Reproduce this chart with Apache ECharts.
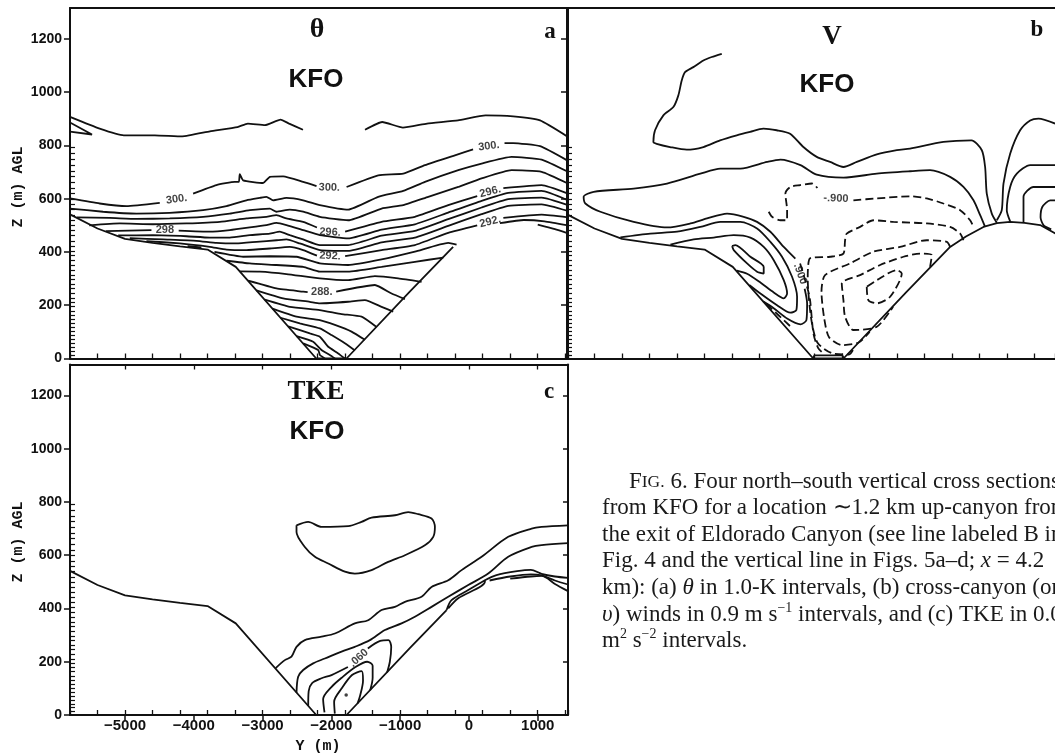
<!DOCTYPE html>
<html>
<head>
<meta charset="utf-8">
<script src="https://cdn.jsdelivr.net/npm/echarts@6/dist/echarts.min.js"></script>
<style>
  html, body { margin: 0; padding: 0; background: #ffffff; }
  #chart { width: 1055px; height: 755px; }
</style>
</head>
<body>
<div id="chart"></div>
<script>
// ---- axis values -------------------------------------------------------
const yTickValues = [0, 200, 400, 600, 800, 1000, 1200];
const xLabelValues = [-5000, -4000, -3000, -2000, -1000, 0, 1000];
// model vertical levels, marked as short inner ticks on the height axes
const modelLevels = [14, 28, 42, 56, 71, 86, 101, 116, 131, 147, 163, 179, 195, 211, 228, 245,
  262, 279, 296, 314, 332, 350, 368, 386, 404, 423, 442, 461, 480, 499, 519, 539, 559, 579,
  599, 620, 641, 662, 683, 704, 726, 748, 770, 792];

// ---- terrain (Y in m, Z in m AGL) --------------------------------------
const groundProfile = [[-5800, 541], [-5400, 488], [-5000, 449], [-4600, 434], [-4200, 421],
  [-3800, 409], [-3390, 344], [-2220, 0], [-1780, 0], [-860, 251], [-325, 394], [-230, 419],
  [0, 458], [255, 494], [450, 508], [643, 513], [850, 509], [1079, 501], [1300, 469]];
const canyonFloorV = [[-2230, 0], [-2200, 12], [-1800, 12], [-1770, 0]];

// ---- (a) potential temperature isentropes (null = label gap) ------------
const thetaContours = [
  [[-5800, 907], [-5369, 863], [-5018, 838], [-4567, 838], [-4167, 834], [-3766, 853], [-3365, 869], [-3215, 882], [-2965, 876], [-2739, 897], [-2614, 882], [-2413, 859], null,
   [-1511, 859], [-1261, 888], [-960, 867], [-610, 882], [-159, 894], [242, 913], [643, 909], [1034, 894], [1440, 832]],
  [[-5800, 886], [-5480, 841], [-5800, 852]],
  [[-5800, 601], [-5368, 582], [-4980, 572], [-4495, 584], null,
   [-4010, 619], [-3671, 651], [-3404, 663], [-3345, 663], [-3332, 692], [-3283, 669], [-2992, 659], [-2895, 682], [-2701, 684], [-2410, 663], [-2216, 647], null,
   [-1779, 644], [-1319, 688], [-955, 694], [-640, 726], [-204, 763], [60, 785], null,
   [517, 809], [643, 809], [1034, 797], [1440, 742]],
  [[-5800, 563], [-5319, 551], [-4834, 544], [-4350, 547], [-3865, 557], [-3525, 572], [-3235, 594], [-3041, 603], [-2944, 607], [-2847, 594], [-2653, 603], [-2410, 594], [-2168, 576],
   [-1755, 559], [-1319, 607], [-955, 629], [-640, 663], [-155, 707], [184, 732], [620, 757], [1057, 747], [1440, 701]],
  [[-5700, 530], [-5222, 528], [-4834, 524], [-4350, 526], [-3865, 532], [-3477, 544], [-3186, 557], [-2895, 563], [-2798, 551], [-2604, 559], [-2410, 551], [-2168, 532],
   [-1755, 519], [-1270, 563], [-955, 576], [-592, 607], [-155, 644], [184, 676], [620, 707], [1057, 701], [1440, 657]],
  [[-5520, 500], [-5077, 507], [-4592, 504], [-4107, 507], [-3622, 513], [-3235, 526], [-2944, 532], [-2798, 538], [-2653, 526], [-2410, 513], [-2210, 492], null,
   [-1800, 476], [-1270, 513], [-786, 532], [-301, 576], [120, 610], null,
   [500, 640], [1057, 651], [1440, 619]],
  [[-5280, 478], [-4616, 482], null,
   [-4220, 480], [-3768, 476], [-3477, 482], [-3186, 492], [-2944, 501], [-2798, 509], [-2653, 501], [-2410, 482], [-2168, 463],
   [-1755, 451], [-1270, 484], [-786, 504], [-301, 548], [184, 592], [572, 622], [1057, 629], [1440, 594]],
  [[-5100, 462], [-4592, 463], [-4107, 459], [-3768, 454], [-3477, 454], [-3186, 463], [-2895, 469], [-2750, 476], [-2604, 463], [-2410, 447], [-2168, 426],
   [-1755, 426], [-1270, 461], [-786, 479], [-301, 523], [184, 567], [572, 598], [1057, 604], [1440, 576]],
  [[-4931, 452], [-4447, 447], [-3962, 442], [-3671, 434], [-3380, 432], [-3089, 438], [-2798, 444], [-2653, 447], [-2459, 432], [-2168, 407],
   [-1755, 404], [-1270, 436], [-786, 454], [-301, 498], [184, 542], [572, 573], [1057, 579], [1440, 554]],
  [[-4689, 441], [-4204, 432], [-3768, 419], [-3525, 409], [-3235, 407], [-2895, 413], [-2604, 419], [-2410, 407], [-2210, 386], null,
   [-1800, 384], [-1270, 407], [-786, 426], [-301, 472], [120, 500], null,
   [500, 528], [1057, 540], [1440, 530]],
  [[450, 508], [800, 520], [1100, 515], [1440, 500]],
  [[1000, 503], [1250, 486], [1440, 470]],
  [[-4090, 422], [-3890, 417], [-4090, 418]],
  [[-3700, 400], [-3283, 382], [-2895, 384], [-2507, 382], [-2168, 357], [-1755, 351], [-1270, 372], [-786, 401], [-301, 434], [-180, 428]],
  [[-3525, 367], [-3186, 357], [-2798, 351], [-2410, 344], [-2168, 326], [-1755, 326], [-1270, 344], [-786, 363], [-374, 379]],
  [[-3332, 327], [-3041, 326], [-2653, 317], [-2168, 301], [-1755, 294], [-1367, 309], [-1028, 301], [-689, 288]],
  [[-3210, 292], [-2798, 263], [-2410, 251], [-2345, 249], null,
   [-1930, 251], [-1367, 276], [-1125, 244], [-931, 223]],
  [[-3089, 256], [-2701, 226], [-2313, 213], [-2168, 207], [-1755, 213], [-1513, 219], [-1270, 194], [-1101, 176]],
  [[-2968, 221], [-2604, 194], [-2168, 182], [-1852, 167], [-1561, 157], [-1343, 118]],
  [[-2856, 187], [-2507, 157], [-2168, 144], [-1949, 126], [-1707, 101], [-1513, 70]],
  [[-2740, 153], [-2459, 132], [-2168, 113], [-1998, 88], [-1804, 57], [-1658, 30]],
  [[-2629, 121], [-2313, 94], [-2168, 82], [-2046, 44], [-1901, 19], [-1804, 0]],
  [[-2507, 84], [-2265, 63], [-2143, 32], [-2022, 13], [-1949, 0]],
  [[-2410, 57], [-2192, 32], [-2167, 13], [-2095, 0]]
];
const thetaLabels = [
  [-4250, 598, '300.'], [-2030, 642, '300.'], [290, 797, '300.'],
  [-2020, 474, '296.'], [310, 626, '296.'],
  [-2020, 385, '292.'], [310, 514, '292.'],
  [-4420, 482, '298'], [-2140, 248, '288.']
];
const thetaLabelAngles = [8, -2, 7, -3, 14, -3, 14, 0, 0];

// ---- (b) cross-canyon wind: positive solid, negative dashed --------------
const windPositive = [
  [[-3550, 1144], [-3696, 1132], [-3817, 1119], [-3963, 1094], [-4084, 1075], [-4132, 1044], [-4181, 988], [-4254, 944], [-4399, 913], [-4520, 857], [-4544, 813], [-4496, 806],
   [-4302, 794], [-4060, 784], [-3817, 794], [-3575, 819], [-3332, 838], [-3138, 851], [-2945, 863], [-2751, 857], [-2557, 844], [-2363, 794], [-2169, 757], [-1975, 738],
   [-1781, 719], [-1587, 738], [-1296, 766], [-1005, 782], [-812, 788], [-327, 813], [80, 819], [231, 782], [279, 719], [303, 619], [376, 544], [449, 510]],
  [[279, 494], [207, 538], [110, 594], [-36, 644], [-230, 682], [-521, 707], [-812, 703], [-1296, 694], [-1781, 679], [-2169, 690], [-2406, 726], [-2697, 747], [-2891, 738],
   [-3279, 713], [-3570, 713], [-3861, 694], [-4346, 657], [-4830, 638], [-5412, 626], [-5558, 607], [-5533, 582], [-5315, 551], [-4830, 513], [-4346, 492], [-4006, 507],
   [-3764, 526], [-3473, 544], [-3231, 532], [-3037, 513], [-2843, 476], [-2649, 419], [-2480, 375], null,
   [-2345, 262], [-2309, 207], [-2319, 144], [-2406, 128], [-2600, 150], [-2800, 190], [-2950, 215]],
  [[-5024, 455], [-4588, 469], [-4200, 476], [-3861, 494], [-3570, 513], [-3279, 513], [-3037, 488], [-2843, 438], [-2674, 382], [-2528, 307], [-2455, 232], [-2465, 182],
   [-2552, 172], [-2746, 200], [-2988, 244], [-3150, 276]],
  [[-4297, 428], [-3958, 447], [-3667, 454], [-3376, 463], [-3134, 454], [-2940, 419], [-2794, 369], [-2649, 294], [-2600, 244], [-2649, 226], [-2794, 248], [-2988, 285],
   [-3182, 318], [-3330, 330]],
  [[-3400, 422], [-3352, 426], [-3134, 382], [-2940, 344], [-2940, 319], [-3037, 326], [-3182, 357], [-3376, 407], [-3400, 422]],
  [[449, 519], [521, 557], [546, 657], [643, 769], [788, 857], [934, 894], [1055, 901], [1297, 882]],
  [[643, 515], [594, 557], [643, 644], [740, 694], [934, 726], [1297, 726]],
  [[837, 510], [837, 607], [982, 644], [1297, 644]],
  [[1297, 594], [1225, 594], [1110, 569], [1085, 530], [1130, 500], [1240, 485]]
];
const windNegative = [
  [[-2867, 551], [-2818, 532], [-2697, 519], [-2600, 519], [-2600, 557], [-2625, 619], [-2552, 644], [-2411, 651], [-2237, 657], [-2160, 640], null,
   [-1636, 594], [-1296, 601], [-812, 609], [-569, 601], [-327, 582], [-84, 557], [61, 519], [110, 494]],
  [[-36, 444], [-84, 469], [-230, 494], [-569, 507], [-1054, 513], [-1345, 519], [-1539, 494], [-1733, 469], [-1757, 444], [-1781, 394], [-1975, 382], [-2266, 376],
   [-2300, 300], [-2250, 150], [-2160, 60], [-1950, 20], [-1700, 15], [-1620, 43]],
  [[-230, 419], [-278, 438], [-569, 444], [-957, 419], [-1345, 401], [-1684, 357], [-2048, 313], [-2100, 250], [-2060, 150], [-1990, 80], [-1800, 50], [-1560, 60], [-1400, 100]],
  [[-521, 344], [-496, 388], [-666, 394], [-909, 382], [-1248, 351], [-1539, 313], [-1805, 282], [-1781, 219], [-1757, 157], [-1636, 107], [-1296, 119], [-1060, 194]],
  [[-1442, 269], [-1418, 219], [-1296, 207], [-1102, 232], [-933, 319], [-1006, 332], [-1296, 294], [-1442, 269]],
  [[-2411, 357], [-2300, 260], [-2266, 219], [-2217, 94], [-2150, 40], [-2072, 19]],
  [[-2900, 205], [-2550, 120]]
];
const windLabels = [[-1890, 601, '-.900'], [-2410, 318, '.900']];
const windLabelAngles = [-2, -70];

// ---- (c) turbulent kinetic energy --------------------------------------
const tkeContours = [
  [[-2507, 712], [-2337, 725], [-2143, 706], [-1756, 709], [-1562, 725], [-1416, 741], [-1077, 750], [-883, 762], [-738, 754], [-544, 738], [-495, 706], [-519, 669],
   [-641, 637], [-931, 600], [-1174, 575], [-1416, 544], [-1659, 531], [-1804, 538], [-2046, 569], [-2239, 594], [-2386, 631], [-2507, 687], [-2507, 712]],
  [[-2810, 176], [-2677, 206], [-2580, 219], [-2507, 256], [-2386, 281], [-2143, 294], [-1949, 306], [-1659, 344], [-1465, 356], [-1271, 394], [-1077, 406], [-931, 425],
   [-689, 444], [-544, 481], [-301, 506], [-107, 544], [184, 594], [571, 669], [911, 700], [1056, 706], [1440, 712]],
  [[-2507, 84], [-2483, 144], [-2410, 169], [-2265, 194], [-2095, 212], [-1852, 238], [-1659, 256], [-1440, 281], [-1222, 319], [-980, 344], [-786, 369], [-544, 406],
   [-301, 444], [-10, 488], [280, 531], [571, 594], [911, 631], [1056, 638], [1440, 645]],
  [[-2337, 34], [-2330, 90], [-2280, 120], [-2143, 138], [-1998, 150], [-1760, 180], null,
   [-1470, 250], [-1290, 278], [-1170, 281], [-1130, 255], [-1150, 200], [-1190, 160]],
  [[-2100, 10], [-2120, 60], [-2000, 105], [-1850, 140], [-1650, 180], [-1480, 200], [-1400, 185], [-1400, 140], [-1436, 93]],
  [[-1950, 5], [-1960, 50], [-1850, 100], [-1700, 150], [-1560, 165], [-1540, 130], [-1580, 75], [-1620, 43]],
  [[-325, 394], [-253, 431], [-10, 469], [232, 506], [232, 500], [-156, 438], [-301, 400]],
  [[232, 506], [400, 525], [700, 540], [900, 545], [1056, 530], [1250, 520], [1440, 515]],
  [[300, 505], [600, 520], [900, 528], [1056, 524], [1250, 505], [1440, 490]],
  [[600, 512], [900, 520], [1056, 522], [1250, 492], [1440, 465]]
];
const tkeLabels = [[-1600, 214, '.060']];
const tkeLabelAngles = [42];
const tkePeak = [[-1785, 75]];

// ---- caption -----------------------------------------------------------
const captionLines = [
  '{sc1|F}{sc2|IG.} 6. Four north–south vertical cross sections',
  'from KFO for a location ∼1.2 km up-canyon from',
  'the exit of Eldorado Canyon (see line labeled B in',
  'Fig. 4 and the vertical line in Figs. 5a–d; {it|x} = 4.2',
  'km): (a) {it|θ} in 1.0-K intervals, (b) cross-canyon (or',
  '{it|υ}) winds in 0.9 m s{sup|−1} intervals, and (c) TKE in 0.02',
  'm{sup|2} s{sup|−2} intervals.'
];

// ---- drawing -----------------------------------------------------------
const INK = '#111111';
const SANS = '"Liberation Sans", Arial, sans-serif';
const SERIF = '"Liberation Serif", "Times New Roman", serif';
const MONO = '"Liberation Mono", "Courier New", monospace';
const X_MIN = -5800, X_MAX = 1440, X_MAX_B = 1295, Y_MAX = 1316;

const chart = echarts.init(document.getElementById('chart'), null, { renderer: 'canvas' });

const grids = [
  { left: 70, top: 8, width: 498, height: 350.5 },
  { left: 567, top: 8, width: 488, height: 350.5 },
  { left: 70, top: 364.5, width: 498, height: 350.5 }
];

const axisLineStyle = { show: true, onZero: false, lineStyle: { color: INK, width: 2 } };
const noLine = { show: false, onZero: false };

function xAxisOf(grid, max, opts) {
  return Object.assign({
    type: 'value', gridIndex: grid, min: X_MIN, max: max, position: 'bottom',
    axisLine: axisLineStyle, splitLine: { show: false },
    axisLabel: { show: false }, axisTick: { show: false }
  }, opts);
}
function yAxisOf(grid, opts) {
  return Object.assign({
    type: 'value', gridIndex: grid, min: 0, max: Y_MAX, position: 'left',
    axisLine: axisLineStyle, splitLine: { show: false },
    axisLabel: { show: false }, axisTick: { show: false }
  }, opts);
}
const minorXTicks = { show: true, inside: true, length: 5, lineStyle: { color: INK, width: 1.3 } };
const levelTicks = { show: true, inside: true, length: 5, customValues: modelLevels, lineStyle: { color: INK, width: 1.2 } };
const yLabelStyle = { show: true, customValues: yTickValues, margin: 8, color: INK, fontSize: 14, fontWeight: 'bold', fontFamily: SANS,
  formatter: v => String(v) };

const xAxes = [
  // (a)
  xAxisOf(0, X_MAX, { interval: 400, axisTick: minorXTicks }),
  xAxisOf(0, X_MAX, { position: 'top' }),
  // (b)
  xAxisOf(1, X_MAX_B, { interval: 400, axisTick: minorXTicks }),
  xAxisOf(1, X_MAX_B, { position: 'top' }),
  // (c)
  xAxisOf(2, X_MAX, {
    axisTick: { show: true, inside: false, length: 6, customValues: xLabelValues, lineStyle: { color: INK, width: 1.5 } },
    axisLabel: { show: true, customValues: xLabelValues, margin: 3, color: INK, fontSize: 15, fontWeight: 'bold', fontFamily: SANS,
      formatter: v => (v < 0 ? '\u2212' + Math.abs(v) : String(v)) }
  }),
  xAxisOf(2, X_MAX, { interval: 400, axisLine: noLine, axisTick: minorXTicks }),
  xAxisOf(2, X_MAX, { position: 'top', axisTick: { show: true, inside: true, length: 5, customValues: xLabelValues, lineStyle: { color: INK, width: 1.3 } } })
];

const majorYTicks = { show: true, inside: false, length: 6, customValues: yTickValues, lineStyle: { color: INK, width: 1.5 } };
const innerYTicks = { show: true, inside: true, length: 5, customValues: yTickValues, lineStyle: { color: INK, width: 1.5 } };
const yAxes = [
  yAxisOf(0, { axisTick: majorYTicks, axisLabel: yLabelStyle }),
  yAxisOf(0, { axisLine: noLine, axisTick: levelTicks }),
  yAxisOf(0, { position: 'right', axisTick: innerYTicks }),
  yAxisOf(1, { axisTick: majorYTicks }),
  yAxisOf(1, { axisLine: noLine, axisTick: levelTicks }),
  yAxisOf(2, { axisTick: majorYTicks, axisLabel: yLabelStyle }),
  yAxisOf(2, { axisLine: noLine, axisTick: levelTicks }),
  yAxisOf(2, { position: 'right', axisTick: innerYTicks })
];

const series = [];
function addPolylines(lines, xi, yi, dashed, smooth) {
  lines.forEach(line => {
    let seg = [];
    const flush = () => {
      if (seg.length > 1) {
        series.push({
          type: 'line', xAxisIndex: xi, yAxisIndex: yi, data: seg, showSymbol: false, symbol: 'none',
          smooth: smooth, silent: true, animation: false, clip: true,
          lineStyle: { color: INK, width: 1.8, type: dashed ? [8, 4] : 'solid' }
        });
      }
      seg = [];
    };
    line.forEach(p => { if (p === null) flush(); else seg.push(p); });
    flush();
  });
}
function addLabels(labels, angles, xi, yi) {
  series.push({
    type: 'scatter', xAxisIndex: xi, yAxisIndex: yi, symbolSize: 1, silent: true, animation: false,
    itemStyle: { color: 'rgba(0,0,0,0)' },
    label: { show: true, position: 'inside', formatter: p => p.name, color: INK, fontSize: 11, fontWeight: 'bold', fontFamily: SANS },
    data: labels.map((l, i) => ({ value: [l[0], l[1]], name: l[2], label: { rotate: angles[i] } }))
  });
}

// ground lines
addPolylines([groundProfile.filter(p => p[0] <= -230)], 0, 0, false, false);
addPolylines([groundProfile], 2, 3, false, false);
addPolylines([canyonFloorV], 2, 3, false, false);
addPolylines([groundProfile.filter(p => p[0] <= -325)], 4, 5, false, false);

addPolylines(thetaContours, 0, 0, false, 0.15);
addLabels(thetaLabels, thetaLabelAngles, 0, 0);
addPolylines(windPositive, 2, 3, false, 0.25);
addPolylines(windNegative, 2, 3, true, 0.25);
addLabels(windLabels, windLabelAngles, 2, 3);
addPolylines(tkeContours, 4, 5, false, 0.3);
addLabels(tkeLabels, tkeLabelAngles, 4, 5);
series.push({
  type: 'scatter', xAxisIndex: 4, yAxisIndex: 5, symbol: 'circle', symbolSize: 3.5, silent: true, animation: false,
  itemStyle: { color: INK }, data: tkePeak
});

function txt(x, y, text, font, extra) {
  return Object.assign({
    type: 'text', x: x, y: y, silent: true,
    style: { text: text, font: font, fill: INK, align: 'center', verticalAlign: 'middle', textAlign: 'center', textVerticalAlign: 'middle' }
  }, extra || {});
}

const graphics = [
  txt(317, 30, '\u03b8', 'bold 28px ' + SERIF),
  txt(316, 80, 'KFO', 'bold 26px ' + SANS),
  txt(550, 32, 'a', 'bold 23px ' + SERIF),
  txt(832, 37, 'V', 'bold 27px ' + SERIF),
  txt(827, 85, 'KFO', 'bold 26px ' + SANS),
  txt(1037, 30, 'b', 'bold 23px ' + SERIF),
  txt(316, 392, 'TKE', 'bold 27px ' + SERIF),
  txt(317, 432, 'KFO', 'bold 26px ' + SANS),
  txt(549, 392, 'c', 'bold 23px ' + SERIF),
  txt(18, 187, 'Z (m) AGL', 'bold 15px ' + MONO, { rotation: Math.PI / 2 }),
  txt(18, 542, 'Z (m) AGL', 'bold 15px ' + MONO, { rotation: Math.PI / 2 }),
  txt(318, 746, 'Y (m)', 'bold 15px ' + MONO)
];

const captionRich = {
  sc1: { fontSize: 23, fontFamily: SERIF, lineHeight: 27 },
  sc2: { fontSize: 17.5, fontFamily: SERIF, lineHeight: 27 },
  it: { fontSize: 23, fontFamily: SERIF, fontStyle: 'italic', lineHeight: 27 },
  sup: { fontSize: 14, fontFamily: SERIF, lineHeight: 19, verticalAlign: 'top' }
};
const captionY = [482, 508, 535, 561, 588, 615, 641];
captionLines.forEach((line, i) => {
  graphics.push({
    type: 'text', x: i === 0 ? 629 : 602, y: captionY[i], silent: true,
    style: {
      text: line, fontSize: 23, fontFamily: SERIF, fill: '#1a1a1a', lineHeight: 27,
      align: 'left', verticalAlign: 'middle', rich: captionRich
    }
  });
});

chart.setOption({
  animation: false,
  backgroundColor: '#ffffff',
  grid: grids,
  xAxis: xAxes,
  yAxis: yAxes,
  series: series,
  graphic: { elements: graphics }
});
</script>
</body>
</html>
